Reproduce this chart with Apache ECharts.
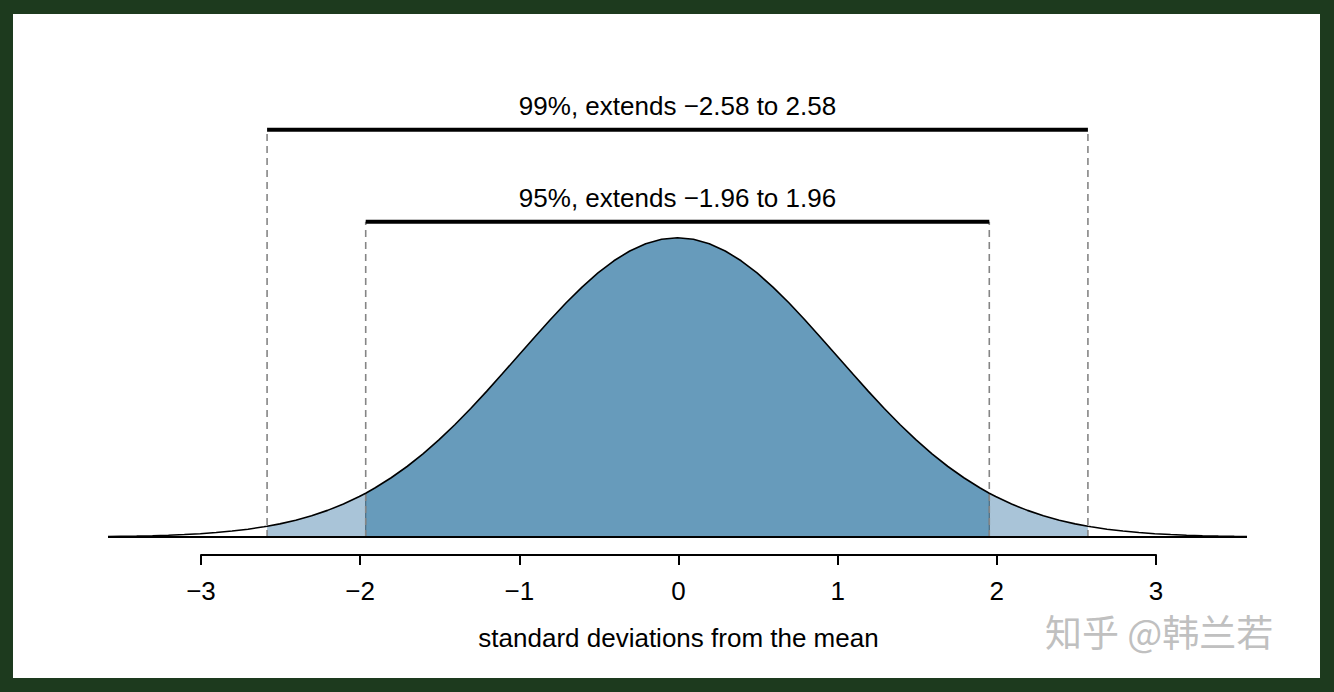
<!DOCTYPE html>
<html>
<head>
<meta charset="utf-8">
<script src="https://cdn.jsdelivr.net/npm/echarts@6/dist/echarts.min.js"></script>
<style>
html,body{margin:0;padding:0;width:1334px;height:692px;background:#1d3a1e;overflow:hidden;}
#bg{position:absolute;left:13px;top:14px;width:1307px;height:664px;background:#ffffff;}
#chart{position:absolute;left:0;top:0;width:1334px;height:692px;}
</style>
</head>
<body>
<div id="bg"></div>
<div id="chart"></div>
<script>
// Curve samples (standard deviations, density)
const curveX = [-3.58,-3.5,-3.4,-3.3,-3.2,-3.1,-3.0,-2.9,-2.8,-2.7,-2.6,-2.58,-2.5,-2.4,-2.3,-2.2,-2.1,-2.0,-1.96,-1.9,-1.8,-1.7,-1.6,-1.5,-1.4,-1.3,-1.2,-1.1,-1.0,-0.9,-0.8,-0.7,-0.6,-0.5,-0.4,-0.3,-0.2,-0.1,0.0,0.1,0.2,0.3,0.4,0.5,0.6,0.7,0.8,0.9,1.0,1.1,1.2,1.3,1.4,1.5,1.6,1.7,1.8,1.9,1.96,2.0,2.1,2.2,2.3,2.4,2.5,2.58,2.6,2.7,2.8,2.9,3.0,3.1,3.2,3.3,3.4,3.5,3.58];
const curveY = [0.0007,0.0009,0.0012,0.0017,0.0024,0.0033,0.0044,0.0060,0.0079,0.0104,0.0136,0.0143,0.0175,0.0224,0.0283,0.0355,0.0440,0.0540,0.0584,0.0656,0.0790,0.0940,0.1109,0.1295,0.1497,0.1714,0.1942,0.2179,0.2420,0.2661,0.2897,0.3123,0.3332,0.3521,0.3683,0.3814,0.3910,0.3970,0.3989,0.3970,0.3910,0.3814,0.3683,0.3521,0.3332,0.3123,0.2897,0.2661,0.2420,0.2179,0.1942,0.1714,0.1497,0.1295,0.1109,0.0940,0.0790,0.0656,0.0584,0.0540,0.0440,0.0355,0.0283,0.0224,0.0175,0.0143,0.0136,0.0104,0.0079,0.0060,0.0044,0.0033,0.0024,0.0017,0.0012,0.0009,0.0007];
// Intervals
const intervalNames = ['99%', '95%'];
const intervalBounds = [2.58, 1.96];
const intervalLabels = ['99%, extends \u22122.58 to 2.58', '95%, extends \u22121.96 to 1.96'];
// Axis ticks
const tickValues = [-3,-2,-1,0,1,2,3];
const tickLabels = ['\u22123','\u22122','\u22121','0','1','2','3'];
const axisTitle = 'standard deviations from the mean';
const watermark = '知乎 @韩兰若';

const FONT = '"Liberation Sans", Arial, Helvetica, sans-serif';
const barLevels = [0.543, 0.4203]; // vertical placement of the interval bars (data units)

const pts = curveX.map((x,i)=>[x, curveY[i]]);
const centerPts = pts.filter(p => Math.abs(p[0]) <= intervalBounds[1] + 1e-9);
const leftTail = pts.filter(p => p[0] >= -intervalBounds[0]-1e-9 && p[0] <= -intervalBounds[1]+1e-9);
const rightTail = pts.filter(p => p[0] >= intervalBounds[1]-1e-9 && p[0] <= intervalBounds[0]+1e-9);

const series = [];
function areaSeries(data, color){
  return {type:'line', xAxisIndex:0, yAxisIndex:0, data, symbol:'none', silent:true,
    lineStyle:{width:0, opacity:0}, areaStyle:{color, opacity:1}, z:1};
}
series.push(areaSeries(leftTail, '#a9c4d8'));
series.push(areaSeries(rightTail, '#a9c4d8'));
series.push(areaSeries(centerPts, '#679bbb'));
// edges of center region
[-intervalBounds[1], intervalBounds[1]].forEach(b=>{
  const p = pts.find(q=>Math.abs(q[0]-b)<1e-9);
  series.push({type:'line', data:[[b,0],[b,p[1]]], symbol:'none', silent:true,
    lineStyle:{color:'#3f5d70', width:1}, z:2});
});
// curve outline
series.push({type:'line', data:pts, symbol:'none', silent:true, lineStyle:{color:'#000', width:1.6}, z:5});
// baseline
series.push({type:'line', data:[[curveX[0],0],[curveX[curveX.length-1],0]], symbol:'none', silent:true,
  lineStyle:{color:'#000', width:2.2}, z:6});
// interval bars, dashed verticals and labels
intervalBounds.forEach((b,i)=>{
  const L = barLevels[i];
  series.push({type:'line', name:intervalNames[i], data:[[-b,L],[b,L]], symbol:'none', silent:true,
    lineStyle:{color:'#000', width:4}, z:6});
  [-b,b].forEach(xv=>{
    series.push({type:'line', data:[[xv,0],[xv,L]], symbol:'none', silent:true,
      lineStyle:{color:'#858585', width:1.6, type:[7,5]}, z:4});
  });
  series.push({type:'scatter', data:[[0,L]], symbolSize:0, silent:true,
    itemStyle:{opacity:1},
    label:{show:true, position:'top', distance:11, formatter:intervalLabels[i],
      color:'#000', opacity:1, fontSize:26, fontFamily:FONT}, z:7});
});

const chart = echarts.init(document.getElementById('chart'), null, {renderer:'svg'});
chart.setOption({
  animation:false,
  backgroundColor:'transparent',
  grid:[
    {left:108, right:87, top:87, bottom:155},
    {left:201, width:955, top:554, height:1}
  ],
  xAxis:[
    {gridIndex:0, type:'value', min:-3.58, max:3.58, show:false},
    {gridIndex:1, type:'value', min:-3, max:3, interval:1,
      axisLine:{show:true, lineStyle:{color:'#000', width:2}},
      axisTick:{show:true, length:10, lineStyle:{color:'#000', width:2}},
      splitLine:{show:false},
      axisLabel:{margin:26, fontSize:26, lineHeight:20, color:'#000', fontFamily:FONT,
        formatter:v=>{const k=tickValues.indexOf(v); return k>=0?tickLabels[k]:'';}},
      name:axisTitle, nameLocation:'middle', nameGap:70,
      nameTextStyle:{fontSize:26, color:'#000', fontFamily:FONT}}
  ],
  yAxis:[
    {gridIndex:0, type:'value', min:0, max:0.6, show:false},
    {gridIndex:1, type:'value', min:0, max:1, show:false}
  ],
  graphic:[{type:'text', left:1045, top:612, silent:true,
    style:{text:watermark, fontSize:37, lineHeight:28, fill:'#c0c0c0', fontFamily:'"Noto Sans CJK SC", sans-serif'}}],
  series
});
</script>
</body>
</html>
